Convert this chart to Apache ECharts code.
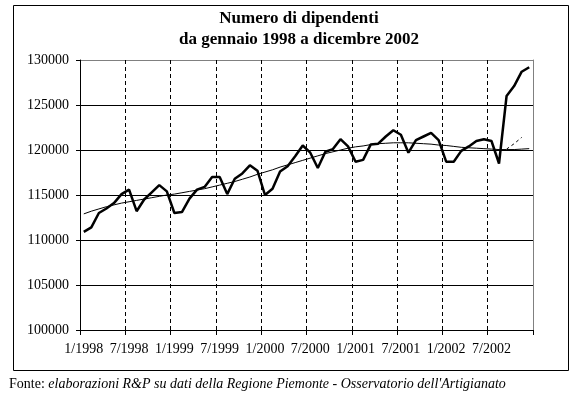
<!DOCTYPE html>
<html>
<head>
<meta charset="utf-8">
<script src="https://cdn.jsdelivr.net/npm/echarts@6/dist/echarts.min.js"></script>
<style>html,body{margin:0;padding:0;background:#fff;}#c{width:576px;height:395px;}</style>
</head>
<body>
<div id="c"></div>
<script>
const years = [1998, 1999, 2000, 2001, 2002];
const categories = [];
years.forEach(y => { for (let m = 1; m <= 12; m++) categories.push(m + '/' + y); });

const dipendenti = [
  110900, 111400, 113000, 113500, 114100, 115100, 115600, 113200, 114500, 115300, 116100, 115400,
  113000, 113100, 114600, 115600, 115900, 117000, 117000, 115100, 116800, 117400, 118300, 117700,
  115000, 115700, 117600, 118200, 119300, 120500, 119700, 118000, 119800, 120100, 121200, 120400,
  118700, 118900, 120600, 120700, 121500, 122200, 121700, 119700, 121100, 121500, 121900, 121100,
  118700, 118700, 119900, 120400, 121000, 121200, 121000, 118500, 126000, 127100, 128700, 129200
];

const tendenza = [
  112900, 113200, 113450, 113700, 113900, 114100, 114250, 114400, 114550, 114700, 114850, 115000,
  115100, 115250, 115400, 115550, 115700, 115900, 116100, 116300, 116500, 116750, 117000, 117300,
  117550, 117800, 118100, 118350, 118600, 118850, 119100, 119350, 119600, 119800, 120000, 120200,
  120350, 120450, 120600, 120700, 120750, 120800, 120800, 120800, 120750, 120700, 120650, 120550,
  120500, 120400, 120300, 120250, 120200, 120150, 120100, 120050, 120050, 120050, 120100, 120150
];

const puntinata = categories.map(() => null);
const puntinataValori = { 56: 120100, 57: 120700, 58: 121400 };
Object.keys(puntinataValori).forEach(k => { puntinata[k] = puntinataValori[k]; });

const yMin = 100000, yMax = 130000, yStep = 5000;
const titleText = 'Numero di dipendenti\nda gennaio 1998 a dicembre 2002';

const serif = '"Liberation Serif", "Times New Roman", serif';
const chart = echarts.init(document.getElementById('c'), null, { renderer: 'canvas' });
chart.setOption({
  animation: false,
  backgroundColor: '#fff',
  title: [
    {
      text: titleText,
      left: 294, top: 3, textAlign: 'center',
      textStyle: { fontFamily: serif, fontWeight: 'bold', fontSize: 17, color: '#000', lineHeight: 21 }
    },
    {
      text: '{n|Fonte: }{i|elaborazioni R&P su dati della Regione Piemonte - Osservatorio dell\'Artigianato}',
      left: 4, top: 372,
      textStyle: {
        fontWeight: 'normal',
        rich: {
          n: { fontFamily: serif, fontSize: 14, fontWeight: 'normal', color: '#000' },
          i: { fontFamily: serif, fontSize: 14, fontWeight: 'normal', fontStyle: 'italic', color: '#000' }
        }
      }
    }
  ],
  graphic: [
    { type: 'rect', shape: { x: 13.5, y: 5.5, width: 555, height: 365 }, style: { fill: 'none', stroke: '#000', lineWidth: 1 }, z: -1 }
  ],
  grid: { left: 80, right: 43, top: 60, bottom: 65, containLabel: false },
  xAxis: {
    type: 'category',
    data: categories,
    boundaryGap: true,
    axisLine: { lineStyle: { color: '#000', width: 1 } },
    axisTick: { show: true, interval: 5, length: 5, lineStyle: { color: '#000' } },
    axisLabel: { interval: 5, margin: 12, fontFamily: serif, fontSize: 14, color: '#000' },
    splitLine: { show: true, interval: 5, lineStyle: { color: '#000', type: [4, 3], width: 1 } }
  },
  yAxis: [
    {
      type: 'value', min: yMin, max: yMax, interval: yStep,
      axisLine: { show: true, lineStyle: { color: '#000' } },
      axisTick: { show: true, length: 4, lineStyle: { color: '#000' } },
      axisLabel: { margin: 11, fontFamily: serif, fontSize: 14, color: '#000', formatter: v => String(v) },
      splitLine: { show: true, lineStyle: { color: ['#000', '#000', '#000', '#000', '#000', '#000', '#808080'], width: 1 } }
    },
    {
      type: 'value', min: yMin, max: yMax, interval: yStep, position: 'right',
      axisLine: { show: true, lineStyle: { color: '#808080' } },
      axisTick: { show: false }, axisLabel: { show: false }, splitLine: { show: false }
    }
  ],
  series: [
    {
      type: 'line', data: tendenza, symbol: 'none', z: 3,
      lineStyle: { color: '#000', width: 1 }
    },
    {
      type: 'line', data: puntinata, symbol: 'none', z: 3, connectNulls: false,
      lineStyle: { color: '#000', width: 1, type: [3, 3] }
    },
    {
      type: 'line', data: dipendenti, symbol: 'none', z: 4,
      lineStyle: { color: '#000', width: 2.5 }
    }
  ]
});
</script>
</body>
</html>
